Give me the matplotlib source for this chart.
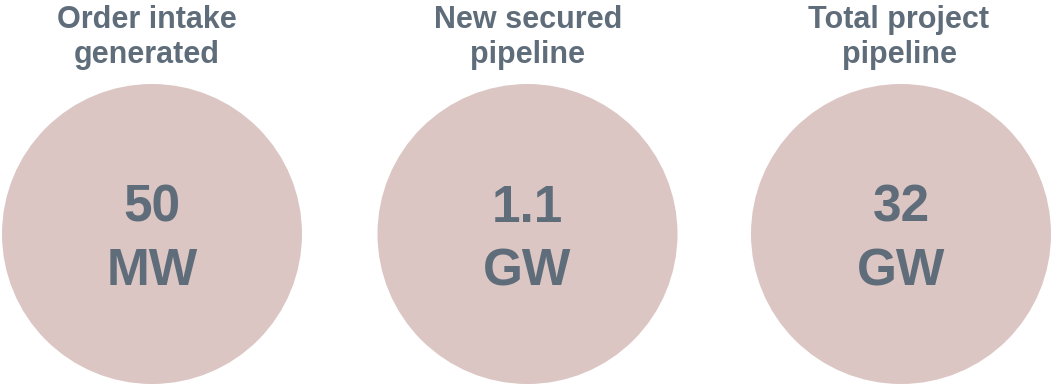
import matplotlib
matplotlib.use("Agg")
import matplotlib.pyplot as plt
from matplotlib.patches import Circle

# KPI bubbles: heading, value and unit
titles = [["Order intake", "generated"],
          ["New secured", "pipeline"],
          ["Total project", "pipeline"]]
values = ["50", "1.1", "32"]
units = ["MW", "GW", "GW"]

W, H = 1051, 386
circle_x = [152, 527.5, 901]
title_x = [147, 528, 899]
circle_y = 234
radius = 150

fill = "#dcc6c4"
ink = "#5f6d7b"
font = "Liberation Sans"

fig = plt.figure(figsize=(W / 100, H / 100), dpi=100)
ax = fig.add_axes([0, 0, 1, 1])
ax.set_xlim(0, W)
ax.set_ylim(H, 0)
ax.set_aspect("equal")
ax.axis("off")

for i in range(len(values)):
    ax.add_patch(Circle((circle_x[i], circle_y), radius, facecolor=fill,
                        edgecolor="none"))
    for line, base in zip(titles[i], [28, 63]):
        ax.text(title_x[i], base, line, ha="center", va="baseline",
                fontsize=22, fontweight="bold", color=ink, family=font)
    ax.text(circle_x[i], 222, values[i], ha="center", va="baseline",
            fontsize=37, fontweight="bold", color=ink, family=font)
    ax.text(circle_x[i], 285, units[i], ha="center", va="baseline",
            fontsize=37, fontweight="bold", color=ink, family=font)

fig.savefig("out.png", dpi=100, facecolor="white")
